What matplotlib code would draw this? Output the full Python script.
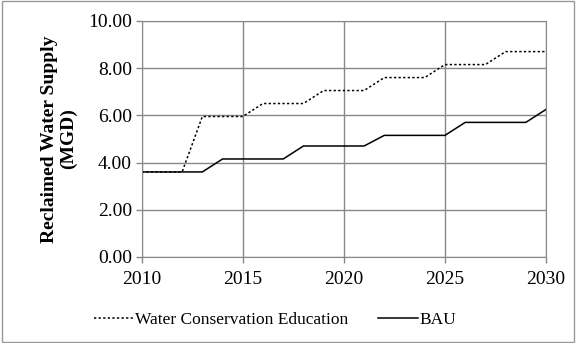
import matplotlib.pyplot as plt
import numpy as np

years = list(range(2010, 2031))
bau = [3.6, 3.6, 3.6, 3.6, 4.15, 4.15, 4.15, 4.15, 4.7, 4.7, 4.7, 4.7,
       5.15, 5.15, 5.15, 5.15, 5.7, 5.7, 5.7, 5.7, 6.25]
wce = [3.6, 3.6, 3.6, 5.95, 5.95, 5.95, 6.5, 6.5, 6.5, 7.05, 7.05, 7.05,
       7.6, 7.6, 7.6, 8.15, 8.15, 8.15, 8.7, 8.7, 8.7]
x_ticks = [2010, 2015, 2020, 2025, 2030]
y_ticks = [0, 2, 4, 6, 8, 10]

plt.rcParams['font.family'] = ['Liberation Serif', 'DejaVu Serif']

fig = plt.figure(figsize=(5.76, 3.43), dpi=100)
ax = fig.add_axes([0.246, 0.251, 0.702, 0.688])

ax.plot(years, wce, color='black', linestyle=(0, (1.5, 1.5)), linewidth=1.1,
        label='Water Conservation Education')
ax.plot(years, bau, color='black', linestyle='-', linewidth=1.1, label='BAU')

ax.set_xlim(2010, 2030)
ax.set_ylim(0, 10)
ax.set_xticks(x_ticks)
ax.set_yticks(y_ticks)
ax.set_yticklabels(['%.2f' % v for v in y_ticks])
ax.tick_params(labelsize=14, color='#888888', length=4, width=1)
ax.tick_params(axis='x', pad=6)
ax.tick_params(axis='y', pad=3)
ax.grid(True, color='#888888', linewidth=1)
ax.set_axisbelow(True)
for s in ax.spines.values():
    s.set_color('#888888')

ax.set_ylabel('Reclaimed Water Supply\n(MGD)', fontsize=14, fontweight='bold',
              linespacing=1.15, labelpad=8)

ax.legend(loc='upper center', bbox_to_anchor=(0.33, -0.165), ncol=2,
          frameon=False, fontsize=12.5, handlelength=2.3, columnspacing=1.7,
          handletextpad=0.1)

fig.patches.append(plt.Rectangle((0.003, 0.003), 0.994, 0.994,
                                 transform=fig.transFigure, fill=False,
                                 edgecolor='#999999', linewidth=1))

fig.savefig('out.png', dpi=100)
